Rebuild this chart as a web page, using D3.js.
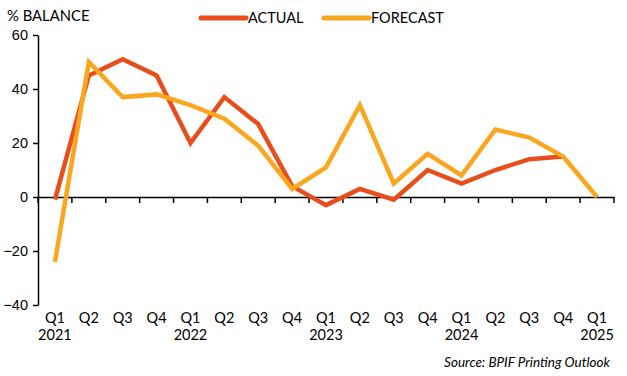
<!DOCTYPE html>
<html>
<head>
<meta charset="utf-8">
<script src="https://cdn.jsdelivr.net/npm/d3@7"></script>
<style>
  body { margin: 0; background: #fff; }
  svg { display: block; font-family: "Lato", "Open Sans", sans-serif; }
</style>
</head>
<body>
<svg id="chart" width="627" height="376"></svg>
<script>
const quarters = ["Q1", "Q2", "Q3", "Q4", "Q1", "Q2", "Q3", "Q4", "Q1", "Q2", "Q3", "Q4", "Q1", "Q2", "Q3", "Q4", "Q1"];
const years = ["2021", "", "", "", "2022", "", "", "", "2023", "", "", "", "2024", "", "", "", "2025"];
const actual = [-1, 45, 51, 45, 20, 37, 27, 4, -3, 3, -1, 10, 5, 10, 14, 15, null];
const forecast = [-24, 50, 37, 38, 34, 29, 19, 3, 11, 34, 5, 16, 8, 25, 22, 15, 0];
const yTicks = [-40, -20, 0, 20, 40, 60];

const svg = d3.select("#chart");
const plotLeft = 38, plotRight = 614, plotTop = 35, plotBottom = 305;

const idx = d3.range(quarters.length);
const x = d3.scaleBand().domain(idx).range([plotLeft, plotRight]);
const y = d3.scaleLinear().domain([-40, 60]).range([plotBottom, plotTop]);

// y axis
const yAxis = svg.append("g")
    .attr("transform", `translate(${plotLeft},0)`)
    .call(d3.axisLeft(y).tickValues(yTicks).tickSize(5).tickSizeOuter(0));
yAxis.select(".domain").attr("stroke", "#000").attr("stroke-width", 1.5);
yAxis.selectAll(".tick line").attr("stroke", "#000").attr("stroke-width", 1.5);
yAxis.selectAll("text").attr("x", -10).style("font-size", "14.5px").attr("fill", "#000");

// x axis at zero
const xAxis = svg.append("g")
    .attr("transform", `translate(0,${y(0)})`)
    .call(d3.axisBottom(x).tickValues([]).tickSizeOuter(0));
xAxis.select(".domain").attr("stroke", "#000").attr("stroke-width", 1.5);
xAxis.selectAll(".xt")
    .data(d3.range(quarters.length + 1))
    .enter().append("line")
    .attr("x1", d => plotLeft + d * x.step())
    .attr("x2", d => plotLeft + d * x.step())
    .attr("y1", 0).attr("y2", 6)
    .attr("stroke", "#000").attr("stroke-width", 1.5);

// category labels below plot
const labels = svg.append("g");
labels.selectAll(".q")
    .data(idx)
    .enter().append("text")
    .attr("x", d => x(d) + x.bandwidth() / 2)
    .attr("y", 323)
    .attr("text-anchor", "middle")
    .style("font-size", "14.5px")
    .text(d => quarters[d]);
labels.selectAll(".yr")
    .data(idx.filter(d => years[d]))
    .enter().append("text")
    .attr("x", d => x(d) + x.bandwidth() / 2)
    .attr("y", 340)
    .attr("text-anchor", "middle")
    .style("font-size", "14.5px")
    .text(d => years[d]);

const line = d3.line()
    .defined(d => d.v != null)
    .x(d => x(d.i) + x.bandwidth() / 2)
    .y(d => y(d.v));

svg.append("path")
    .datum(actual.map((v, i) => ({ i, v })))
    .attr("d", line)
    .attr("fill", "none")
    .attr("stroke", "#E84E1B")
    .attr("stroke-width", 4.5)
    .attr("stroke-linejoin", "miter");

svg.append("path")
    .datum(forecast.map((v, i) => ({ i, v })))
    .attr("d", line)
    .attr("fill", "none")
    .attr("stroke", "#FBA61F")
    .attr("stroke-width", 4.5)
    .attr("stroke-linejoin", "miter");

// title
svg.append("text")
    .attr("x", 7).attr("y", 21)
    .style("font-size", "14.8px")
    .text("% BALANCE");

// legend
const legend = [
    { name: "ACTUAL", color: "#E84E1B", x: 201 },
    { name: "FORECAST", color: "#FBA61F", x: 324 }
];
const lg = svg.append("g").selectAll("g").data(legend).enter().append("g");
lg.append("line")
    .attr("x1", d => d.x).attr("x2", d => d.x + 45)
    .attr("y1", 18).attr("y2", 18)
    .attr("stroke", d => d.color)
    .attr("stroke-width", 5)
    .attr("stroke-linecap", "round");
lg.append("text")
    .attr("x", d => d.x + 47).attr("y", 23)
    .style("font-size", "14.5px")
    .text(d => d.name);

// source
svg.append("text")
    .attr("x", 610).attr("y", 367)
    .attr("text-anchor", "end")
    .style("font-size", "13.5px")
    .style("font-style", "italic")
    .text("Source: BPIF Printing Outlook");
</script>
</body>
</html>
